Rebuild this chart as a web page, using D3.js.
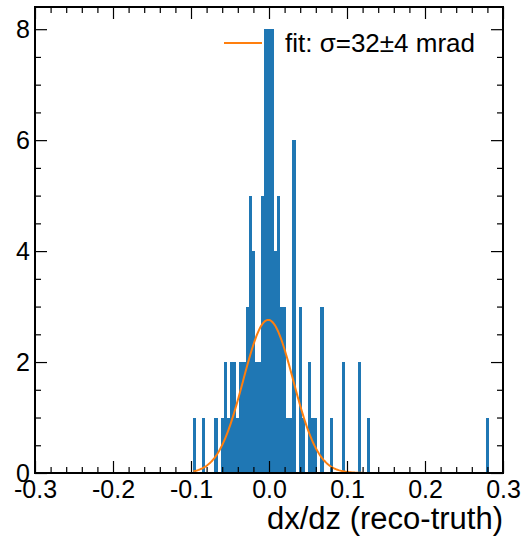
<!DOCTYPE html>
<html>
<head>
<meta charset="utf-8">
<script src="https://cdn.jsdelivr.net/npm/d3@7"></script>
<style>
  body { margin: 0; background: #fff; }
  text { font-family: "Liberation Sans", Helvetica, Arial, sans-serif; }
</style>
</head>
<body>
<div id="plot-container"></div>
<script>
// histogram bins (centre of each non-empty bin) and their counts
const binWidth = 0.004;
const binCenters = [-0.096, -0.084, -0.068, -0.060, -0.056, -0.052, -0.048, -0.044, -0.040, -0.036,
                    -0.032, -0.028, -0.024, -0.020, -0.016, -0.012, -0.008, -0.004, 0.000, 0.004,
                    0.008, 0.012, 0.016, 0.020, 0.024, 0.028, 0.032, 0.040, 0.044, 0.052,
                    0.056, 0.060, 0.068, 0.080, 0.096, 0.116, 0.128, 0.280];
const counts = [1, 1, 1, 1, 2, 1, 2, 2, 1, 2,
                2, 3, 5, 4, 2, 2, 5, 8, 8, 8,
                4, 5, 3, 3, 1, 1, 6, 3, 1, 2,
                1, 1, 3, 1, 2, 2, 1, 1];

// gaussian fit
const fitAmp = 2.76, fitMean = -0.001, fitSigma = 0.032;
const fitRange = [-0.097, 0.13];
const fitLabel = "fit: σ=32±4 mrad";

const xTicks = [-0.3, -0.2, -0.1, 0.0, 0.1, 0.2, 0.3];
const yTicks = [0, 2, 4, 6, 8];
const xLabel = "dx/dz (reco-truth)";

const margin = {top: 7, right: 22, bottom: 67, left: 35},
    width = 525 - margin.left - margin.right,
    height = 540 - margin.top - margin.bottom;

const svg = d3.select("#plot-container")
  .append("svg")
    .attr("width", 525)
    .attr("height", 540)
  .append("g")
    .attr("transform", `translate(${margin.left},${margin.top})`);

const x = d3.scaleLinear().domain([-0.3, 0.3]).range([0, width]);
const y = d3.scaleLinear().domain([0, 8.4]).range([height, 0]);

const hist = binCenters.map((c, i) => ({x0: c - binWidth / 2, x1: c + binWidth / 2, n: counts[i]}));

svg.selectAll("rect.bar")
  .data(hist)
  .enter()
  .append("rect")
    .attr("class", "bar")
    .attr("x", d => x(d.x0))
    .attr("y", d => y(d.n))
    .attr("width", d => x(d.x1) - x(d.x0))
    .attr("height", d => y(0) - y(d.n))
    .attr("fill", "#1f77b4")
    .attr("shape-rendering", "crispEdges");

// fit curve
const fitPts = d3.range(0, 201).map(i => {
  const v = fitRange[0] + (fitRange[1] - fitRange[0]) * i / 200;
  return [v, fitAmp * Math.exp(-0.5 * Math.pow((v - fitMean) / fitSigma, 2))];
});
svg.append("path")
  .datum(fitPts)
  .attr("fill", "none")
  .attr("stroke", "#ff7f0e")
  .attr("stroke-width", 2)
  .attr("d", d3.line().x(d => x(d[0])).y(d => y(d[1])));

// axes, ticks pointing inwards on all four sides
const major = 12, minor = 6;
const xMinor = d3.range(-0.3, 0.3001, 0.02).filter(v => Math.abs(Math.round(v * 10) - v * 10) > 1e-6);
const yMinor = d3.range(0, 8.4, 0.5).filter(v => v % 2 !== 0);

function axisX(g, ticks, len, labels) {
  g.call(d3.axisBottom(x).tickValues(ticks).tickSize(-len)
      .tickFormat(labels ? d3.format(".1f") : ""));
  g.select(".domain").remove();
}
svg.append("g").attr("transform", `translate(0,${height})`).call(axisX, xTicks, major, true)
  .selectAll("text").attr("font-size", 25).attr("dy", "0.66em").attr("y", 8).attr("fill", "#000")
  .text(d => d3.format(".1f")(d).replace("−", "-"));
svg.append("g").attr("transform", `translate(0,${height})`).call(axisX, xMinor, minor, false);
svg.append("g").call(g => {
  g.call(d3.axisTop(x).tickValues(xTicks).tickSize(-major).tickFormat(""));
  g.select(".domain").remove();
});
svg.append("g").call(g => {
  g.call(d3.axisTop(x).tickValues(xMinor).tickSize(-minor).tickFormat(""));
  g.select(".domain").remove();
});

const yAxis = svg.append("g")
  .call(d3.axisLeft(y).tickValues(yTicks).tickSize(-major).tickPadding(6).tickFormat(d3.format("d")));
yAxis.select(".domain").remove();
yAxis.selectAll("text").attr("font-size", 25).attr("fill", "#000").attr("x", -5);
svg.append("g").call(g => {
  g.call(d3.axisLeft(y).tickValues(yMinor).tickSize(-minor).tickFormat(""));
  g.select(".domain").remove();
});
svg.append("g").attr("transform", `translate(${width},0)`).call(g => {
  g.call(d3.axisRight(y).tickValues(yTicks).tickSize(-major).tickFormat(""));
  g.select(".domain").remove();
});
svg.append("g").attr("transform", `translate(${width},0)`).call(g => {
  g.call(d3.axisRight(y).tickValues(yMinor).tickSize(-minor).tickFormat(""));
  g.select(".domain").remove();
});
svg.selectAll(".tick line").attr("stroke", "#000").attr("stroke-width", 1.2);

// frame
svg.append("rect")
  .attr("width", width).attr("height", height)
  .attr("fill", "none").attr("stroke", "#000").attr("stroke-width", 2);

// x label
svg.append("text")
  .attr("text-anchor", "end")
  .attr("x", width)
  .attr("y", height + 56)
  .attr("font-size", 31)
  .text(xLabel);

// legend
svg.append("line")
  .attr("x1", 189).attr("x2", 227).attr("y1", 36).attr("y2", 36)
  .attr("stroke", "#ff7f0e").attr("stroke-width", 2);
svg.append("text")
  .attr("x", 250).attr("y", 45)
  .attr("font-size", 26)
  .text(fitLabel);
</script>
</body>
</html>
